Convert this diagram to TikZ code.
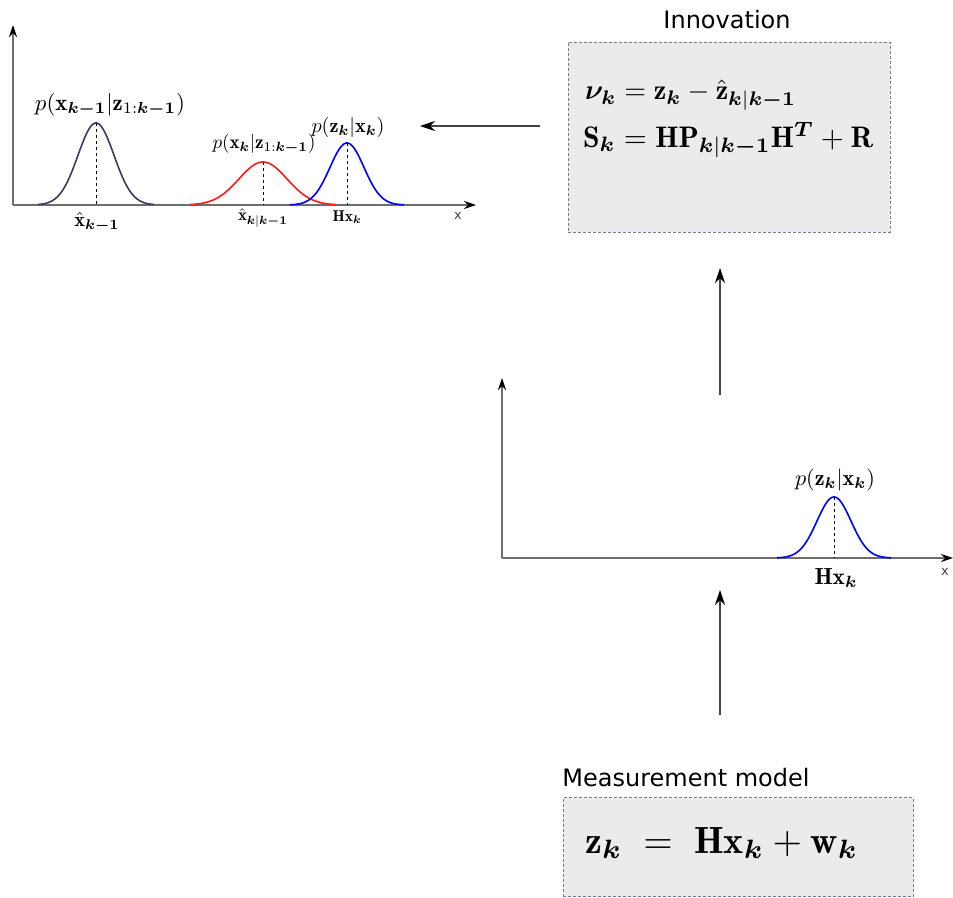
\documentclass[tikz,border=0pt]{standalone}
\usepackage{amsmath,bm}
\usepackage{fontspec}
\newfontfamily\dejavu{DejaVu Sans}
\usetikzlibrary{arrows.meta}
\definecolor{navycurve}{HTML}{3A3A5E}
\definecolor{boxfill}{HTML}{EBEBEB}
\definecolor{boxline}{HTML}{7A7A9A}
\definecolor{axisgray}{HTML}{6E6E6E}
\definecolor{flowgray}{HTML}{444444}
\tikzset{
  axis/.style={draw=axisgray, line width=1.1pt, -{Stealth[length=12pt,width=8pt,inset=4pt,color=black]}},
  flow/.style={draw=flowgray, line width=1.1pt, -{Stealth[length=15pt,width=10pt,inset=5pt,color=black]}},
  gauss/.style={line width=1.6pt, smooth},
  peak/.style={dashed, line width=0.8pt, black},
  box/.style={draw=boxline, fill=boxfill, densely dashed, line width=0.7pt},
  title/.style={font=\dejavu\fontsize{24}{28}\selectfont, inner sep=0pt},
  xlab/.style={font=\dejavu\fontsize{13}{15}\selectfont, text=flowgray, inner sep=0pt},
  lab/.style={inner sep=0pt}
}
\newcommand{\fitw}[2]{\resizebox{#1pt}{!}{#2}}
\begin{document}
\begin{tikzpicture}[x=1pt,y=-1pt]
\useasboundingbox (0,0) rectangle (953,897);
% ---------- top-left plot ----------
\coordinate (o1) at (13,205);
\coordinate (y1) at (13,25);
\coordinate (x1) at (476,205);
\draw[axis] (o1) -- (y1);
\draw[axis] (o1) -- (x1);
\node[xlab] (xl1) at (458,216) {x};
% navy gaussian
\draw[gauss, navycurve] plot[domain=38:154, samples=90] (\x, {205-82*exp(-((\x-96)/18)^2/2)});
\coordinate (pk1) at (96,123); \coordinate (bs1) at (96,205);
\draw[peak] (pk1) -- (bs1);
\node[lab] (l1) at (110,105) {\fitw{150}{$p(\mathbf{x}_{\bm{k-1}}|\mathbf{z}_{1:\bm{k-1}})$}};
\node[lab] (m1) at (97,222) {\fitw{45}{$\hat{\mathbf{x}}_{\bm{k-1}}$}};
% red gaussian
\draw[gauss, red!90!white] plot[domain=190:336, samples=90] (\x, {205-43*exp(-((\x-263)/24)^2/2)});
\coordinate (pk2) at (263,162); \coordinate (bs2) at (263,205);
\draw[peak] (pk2) -- (bs2);
\node[lab] (l2) at (264,144) {\fitw{103}{$p(\mathbf{x}_{\bm{k}}|\mathbf{z}_{1:\bm{k-1}})$}};
\node[lab] (m2) at (263,218) {\fitw{50}{$\hat{\mathbf{x}}_{\bm{k}|\bm{k-1}}$}};
% blue gaussian
\draw[gauss, blue] plot[domain=290:404, samples=90] (\x, {205-62*exp(-((\x-347)/17)^2/2)});
\coordinate (pk3) at (347,143); \coordinate (bs3) at (347,205);
\draw[peak] (pk3) -- (bs3);
\node[lab] (l3) at (348,127) {\fitw{73}{$p(\mathbf{z}_{\bm{k}}|\mathbf{x}_{\bm{k}})$}};
\node[lab] (m3) at (347,217) {\fitw{29}{$\mathbf{H}\mathbf{x}_{\bm{k}}$}};
% ---------- Innovation ----------
\node[title] (tinn) at (727,20) {Innovation};
\node[box, minimum width=322pt, minimum height=190pt, inner sep=0pt] (inn) at (729,137) {};
\node[lab, anchor=west] (e1) at (585,95) {\fitw{211}{$\bm{\nu_k} = \mathbf{z}_{\bm{k}} - \hat{\mathbf{z}}_{\bm{k}|\bm{k-1}}$}};
\node[lab, anchor=west] (e2) at (583,140) {\fitw{290}{$\mathbf{S}_{\bm{k}} = \mathbf{H}\mathbf{P}_{\bm{k}|\bm{k-1}}\mathbf{H}^{\bm{T}} + \mathbf{R}$}};
% ---------- middle plot ----------
\coordinate (o2) at (502,558);
\coordinate (y2) at (502,378);
\coordinate (x2) at (953,558);
\draw[axis] (o2) -- (y2);
\draw[axis] (o2) -- (x2);
\node[xlab] (xl2) at (945,572) {x};
\draw[gauss, blue] plot[domain=777:891, samples=90] (\x, {558-61*exp(-((\x-834)/17)^2/2)});
\coordinate (pk4) at (834,497); \coordinate (bs4) at (834,558);
\draw[peak] (pk4) -- (bs4);
\node[lab] (l4) at (835,480) {\fitw{80}{$p(\mathbf{z}_{\bm{k}}|\mathbf{x}_{\bm{k}})$}};
\node[lab] (m4) at (836,578) {\fitw{43}{$\mathbf{H}\mathbf{x}_{\bm{k}}$}};
% ---------- Measurement model ----------
\node[title] (tmeas) at (686,778) {Measurement model};
\node[box, minimum width=350pt, minimum height=99pt, inner sep=0pt] (meas) at (738,847) {};
\node[lab, anchor=west] (e3) at (585,843) {\fitw{273}{$\mathbf{z}_{\bm{k}} \;=\; \mathbf{H}\mathbf{x}_{\bm{k}} + \mathbf{w}_{\bm{k}}$}};
% ---------- flow arrows ----------
\coordinate (a1s) at (540,126); \coordinate (a1e) at (420,126);
\coordinate (a2s) at (720,395); \coordinate (a2e) at (720,268);
\coordinate (a3s) at (720,715); \coordinate (a3e) at (720,590);
\draw[flow] (a1s) -- (a1e);
\draw[flow] (a2s) -- (a2e);
\draw[flow] (a3s) -- (a3e);
\end{tikzpicture}
\end{document}
